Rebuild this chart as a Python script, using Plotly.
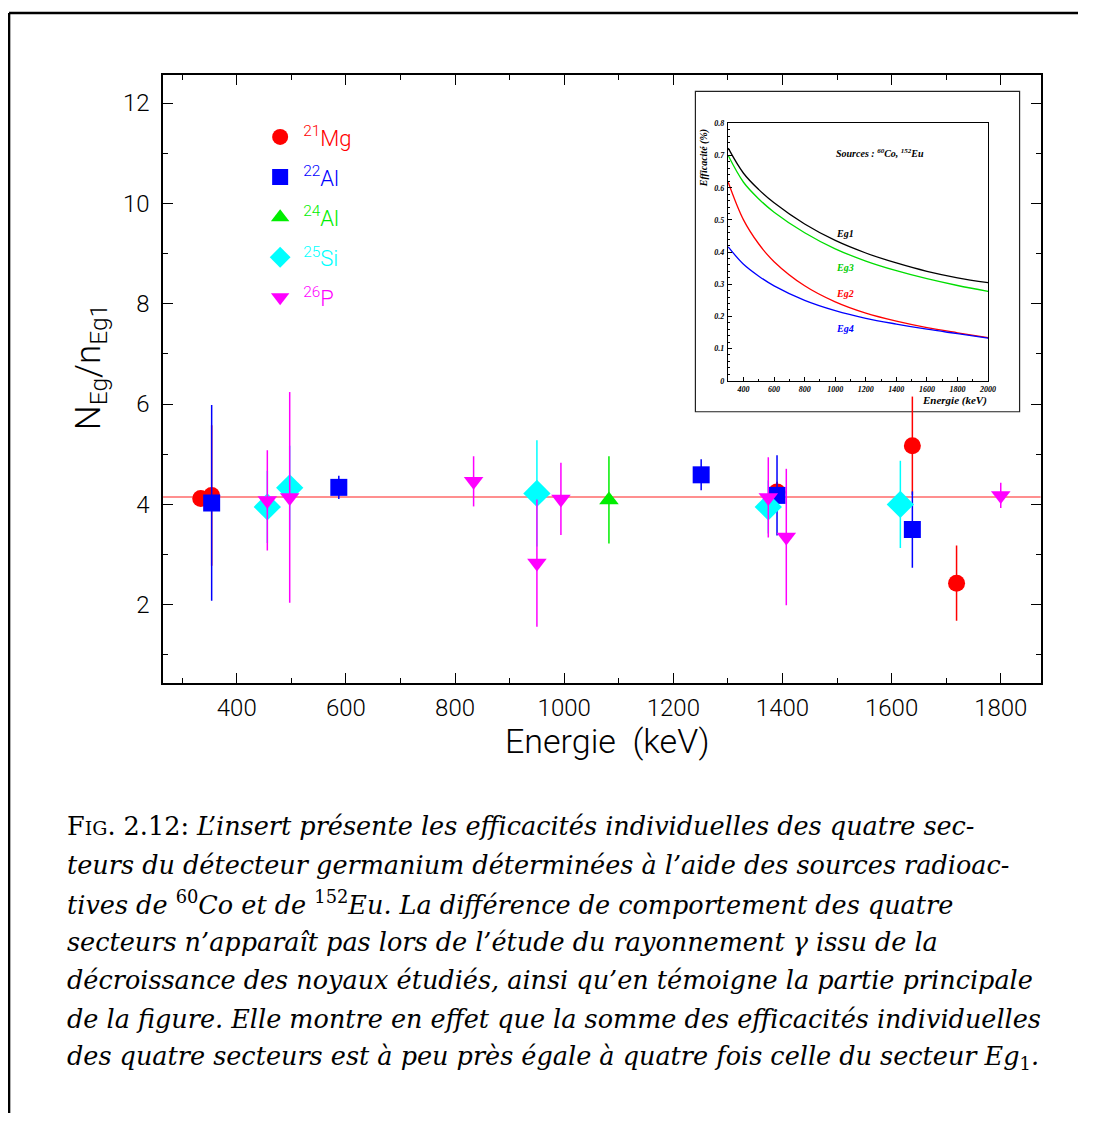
import plotly.graph_objects as go

# page is 1094x1126; the HTML body has an 8px margin, so the figure is drawn 8px in
PAGE_W, PAGE_H = 1094, 1126
OFF = 8
W, H = PAGE_W - 2 * OFF, PAGE_H - 2 * OFF
XS = 0.992  # observed horizontal rendering factor

# ---------------- main panel data (ratio N_Eg / n_Eg1) ----------------
mg21_e = [334, 354, 1390, 1638, 1719]
mg21_r = [4.12, 4.18, 4.25, 5.17, 2.43]
mg21_err = [0.15, 1.40, 0.20, 0.98, 0.75]

al22_e = [354, 587, 1251, 1390, 1638]
al22_r = [4.03, 4.34, 4.59, 4.18, 3.50]
al22_err = [1.95, 0.23, 0.31, 0.80, 0.76]

al24_e = [1082]
al24_r = [4.09]
al24_err = [0.87]

si25_e = [456, 497, 950, 1374, 1616]
si25_r = [3.95, 4.33, 4.22, 3.95, 4.00]
si25_err = [0.72, 0.84, 1.06, 0.53, 0.87]

p26_e = [456, 497, 834, 950, 994, 1374, 1407, 1800]
p26_r = [4.08, 4.14, 4.46, 2.83, 4.11, 4.14, 3.35, 4.18]
p26_err = [1.00, 2.10, 0.50, 1.27, 0.72, 0.80, 1.36, 0.25]

mean_ratio = 4.15

# ---------------- inset data (efficiency %) ----------------
inset_e = [300, 400, 500, 600, 800, 1000, 1200, 1400, 1600, 1800, 2000]
eff_eg1 = [0.723, 0.645, 0.594, 0.553, 0.487, 0.436, 0.397, 0.366, 0.340, 0.320, 0.305]
eff_eg3 = [0.700, 0.617, 0.565, 0.524, 0.460, 0.410, 0.372, 0.342, 0.317, 0.296, 0.278]
eff_eg2 = [0.617, 0.500, 0.425, 0.370, 0.295, 0.245, 0.210, 0.185, 0.165, 0.149, 0.134]
eff_eg4 = [0.416, 0.362, 0.325, 0.295, 0.250, 0.218, 0.194, 0.176, 0.160, 0.146, 0.132]

caption_lines = [
    "F<span style='font-size:19px'>IG</span>. 2.12: <i>L’insert présente les efficacités individuelles des quatre sec-</i>",
    "<i>teurs du détecteur germanium déterminées à l’aide des sources radioac-</i>",
    "<i>tives de </i><sup>60</sup><i>Co et de </i><sup>152</sup><i>Eu. La différence de comportement des quatre</i>",
    "<i>secteurs n’apparaît pas lors de l’étude du rayonnement γ issu de la</i>",
    "<i>décroissance des noyaux étudiés, ainsi qu’en témoigne la partie principale</i>",
    "<i>de la figure. Elle montre en effet que la somme des efficacités individuelles</i>",
    "<i>des quatre secteurs est à peu près égale à quatre fois celle du secteur Eg</i><sub>1</sub><i>.</i>",
]

SANS = "Roboto, Liberation Sans, sans-serif"
SERIF = "Liberation Serif, DejaVu Serif, serif"
CAPSERIF = "DejaVu Serif, Liberation Serif, serif"


def px(x):
    return ((x - OFF) / XS) / W


def py(y):
    return 1 - (y - OFF) / H


fig = go.Figure()

series = [
    ("<sup>21</sup>Mg", "#ff0000", "circle", 17, mg21_e, mg21_r, mg21_err),
    ("<sup>22</sup>Al", "#0000ff", "square", 17, al22_e, al22_r, al22_err),
    ("<sup>24</sup>Al", "#00ee00", "triangle-up", 17, al24_e, al24_r, al24_err),
    ("<sup>25</sup>Si", "#00ffff", "diamond", 21, si25_e, si25_r, si25_err),
    ("<sup>26</sup>P", "#ff00ff", "triangle-down", 17, p26_e, p26_r, p26_err),
]
for i, (name, col, sym, size, xe, yr, er) in enumerate(series):
    fig.add_trace(go.Scatter(
        x=xe, y=yr, mode="markers",
        name=f"<span style='color:{col}'>{name}</span>",
        legendgroup=f"g{i}",
        marker=dict(symbol=sym, size=size, color=col, line=dict(width=0)),
        error_y=dict(type="data", array=er, visible=True, color=col,
                     thickness=1.5, width=0),
        xaxis="x", yaxis="y",
    ))

# mean reference line
fig.add_hline(y=mean_ratio, line=dict(color="#ff6a6a", width=1.5), layer="below")

# inset curves
for effs, col in [(eff_eg1, "black"), (eff_eg3, "#00dd00"),
                  (eff_eg2, "#ff0000"), (eff_eg4, "#0000ff")]:
    fig.add_trace(go.Scatter(
        x=inset_e, y=effs, mode="lines", line=dict(color=col, width=1.3, shape="spline", smoothing=1.0),
        showlegend=False, xaxis="x2", yaxis="y2", hoverinfo="skip",
    ))

# inset frame (white box)
fig.add_shape(type="rect", xref="paper", yref="paper",
              x0=px(695), x1=px(1019), y0=py(411), y1=py(88),
              line=dict(color="#222", width=1.2), fillcolor="white", layer="below")

# page frame lines
fig.add_shape(type="line", xref="paper", yref="paper", x0=0.001, x1=1.0, y0=0.999, y1=0.999,
              line=dict(color="black", width=2.5))
fig.add_shape(type="line", xref="paper", yref="paper", x0=0.001, x1=0.001, y0=0.999, y1=0,
              line=dict(color="black", width=2.5))

main_tick_font = dict(family=SANS, size=24, color="black", weight=300)
inset_tick_font = dict(family=SERIF, size=8, color="black", weight="bold", style="italic")

fig.update_layout(
    width=W, height=H, autosize=False,
    margin=dict(l=0, r=0, t=0, b=0),
    paper_bgcolor="white", plot_bgcolor="white",
    showlegend=True,
    legend=dict(x=px(257), y=py(113), xanchor="left", yanchor="top",
                font=dict(family=SANS, size=22, weight=300), bgcolor="rgba(0,0,0,0)",
                tracegroupgap=8.5, itemsizing="trace", itemwidth=36),
    xaxis=dict(domain=[px(163), px(1040)], range=[265, 1873], anchor="y",
               showline=True, linecolor="black", linewidth=1.5, mirror="ticks",
               ticks="inside", ticklen=10, tickwidth=1.2, tickcolor="black",
               tick0=0, dtick=200, tickfont=main_tick_font, ticklabelstandoff=3,
               minor=dict(dtick=100, ticks="inside", ticklen=5, tickcolor="black", tickwidth=1.2),
               showgrid=False, zeroline=False),
    yaxis=dict(domain=[py(684), py(72)], range=[0.45, 12.55], anchor="x",
               showline=True, linecolor="black", linewidth=1.5, mirror="ticks",
               ticks="inside", ticklen=10, tickwidth=1.2, tickcolor="black",
               tick0=0, dtick=2, tickfont=main_tick_font, ticklabelstandoff=7,
               minor=dict(dtick=1, ticks="inside", ticklen=5, tickcolor="black", tickwidth=1.2),
               showgrid=False, zeroline=False),
    xaxis2=dict(domain=[px(727.5), px(987.5)], range=[298, 2000], anchor="y2",
                showline=True, linecolor="black", linewidth=1.2, mirror=True,
                ticks="inside", ticklen=4, tickwidth=1, tickcolor="black",
                tick0=0, dtick=200, tickfont=inset_tick_font, ticklabelstandoff=1,
                minor=dict(dtick=100, ticks="inside", ticklen=2, tickcolor="black"),
                showgrid=False, zeroline=False),
    yaxis2=dict(domain=[py(379.7), py(120.3)], range=[0, 0.8], anchor="x2",
                showline=True, linecolor="black", linewidth=1.2, mirror=True,
                ticks="inside", ticklen=4, tickwidth=1, tickcolor="black",
                tick0=0, dtick=0.1, tickfont=inset_tick_font, ticklabelstandoff=1,
                minor=dict(dtick=0.02, ticks="inside", ticklen=2, tickcolor="black"),
                showgrid=False, zeroline=False),
)

ann = []
# main axis titles
ann.append(dict(text="Energie  (keV)", x=px(607), y=py(743), xref="paper", yref="paper",
                xanchor="center", yanchor="middle",
                showarrow=False, font=dict(family=SANS, size=34, color="black", weight=300)))
ann.append(dict(text="N<sub>Eg</sub>/n<sub>Eg1</sub>", x=px(90), y=py(366), xref="paper", yref="paper",
                xanchor="center", yanchor="middle",
                showarrow=False, textangle=-90, font=dict(family=SANS, size=35, color="black", weight=300)))

# inset texts
inset_font = dict(family=SERIF, size=10, weight="bold", style="italic")
ann.append(dict(text="Sources : <sup>60</sup>Co, <sup>152</sup>Eu", x=994, y=0.708, xref="x2", yref="y2",
                xanchor="left", yanchor="middle", showarrow=False, font=dict(inset_font, color="black")))
for lbl, col, yv in [("Eg1", "black", 0.458), ("Eg3", "#00cc00", 0.352),
                     ("Eg2", "#ff0000", 0.272), ("Eg4", "#0000ff", 0.162)]:
    ann.append(dict(text=lbl, x=994, y=yv, xref="x2", yref="y2", xanchor="left", yanchor="middle",
                    showarrow=False, font=dict(inset_font, color=col)))
ann.append(dict(text="Energie (keV)", x=px(988), y=py(400), xref="paper", yref="paper",
                xanchor="right", yanchor="middle", showarrow=False,
                font=dict(inset_font, size=11, color="black")))
ann.append(dict(text="Efficacité (%)", x=px(703), y=py(155), xref="paper", yref="paper",
                xanchor="center", yanchor="middle",
                textangle=-90, showarrow=False, font=dict(inset_font, size=10, color="black")))

# caption
for i, line in enumerate(caption_lines):
    ann.append(dict(text=line, x=px(65), y=py(829 + i * 38.8), xref="paper", yref="paper",
                    xanchor="left", yanchor="middle", showarrow=False,
                    font=dict(family=CAPSERIF, size=25.5, color="black")))

fig.update_layout(annotations=ann)

fig.write_html("out.html")
